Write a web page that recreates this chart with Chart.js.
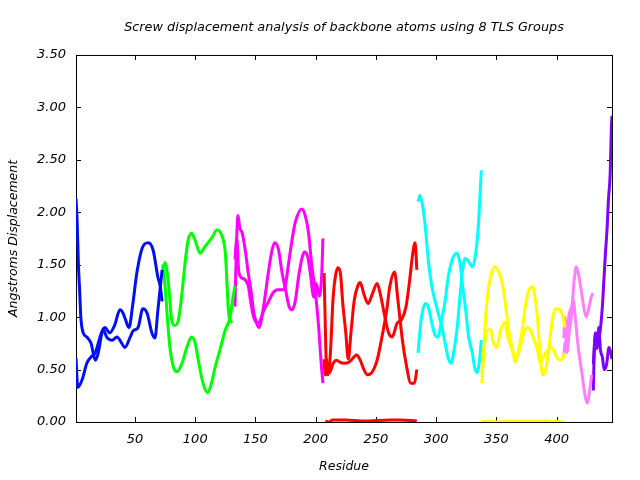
<!DOCTYPE html>
<html>
<head>
<meta charset="utf-8">
<script src="https://cdn.jsdelivr.net/npm/chart.js@4/dist/chart.umd.min.js"></script>
<style>
  body { margin: 0; background: #fff; }
  canvas { display: block; }
</style>
</head>
<body>
<canvas id="chart" width="640" height="480"></canvas>
<script>
// axis ticks
const xTicks = [50, 100, 150, 200, 250, 300, 350, 400];
const yTicks = [0, 0.5, 1, 1.5, 2, 2.5, 3, 3.5];

// TLS group 1 (blue), residue / displacement pairs
const blueA = [[1,2.13],[2,1.9],[3,1.5],[4,1.26],[5,1.0],[7,0.85],[10,0.81],[13.5,0.75],[17,0.59],[19.5,0.66],[22.5,0.85],[25,0.9],[29,0.85],[33,0.92],[37.5,1.07],[40,1.04],[42,0.98],[45,0.9],[48,1.11],[51.5,1.42],[56,1.66],[61,1.71],[65,1.64],[69,1.38],[71,1.29],[72.5,1.15]];
const blueB = [[1,0.61],[2.5,0.33],[6,0.4],[10,0.56],[13.5,0.62],[17,0.66],[21,0.81],[23.5,0.88],[26.5,0.81],[31,0.78],[35,0.81],[39,0.75],[41.5,0.71],[46,0.81],[48.5,0.87],[52.5,0.9],[56.5,1.08],[60,1.04],[64,0.85],[66.5,0.8],[69,1.07],[72.5,1.45]];

// TLS group 2 (green)
const greenA = [[73,1.45],[75,1.52],[76.5,1.45],[78,1.29],[80.5,0.97],[83,0.92],[86,0.97],[89,1.23],[91.5,1.51],[94,1.73],[97,1.8],[100,1.73],[104,1.61],[108,1.67],[114,1.76],[118,1.83],[122,1.78],[125,1.61],[126.5,1.29],[127.5,1.07],[129,0.97],[131,0.95]];
const greenB = [[73,1.5],[75,1.29],[77,0.97],[79,0.71],[82,0.52],[85,0.48],[89,0.56],[93,0.71],[97,0.81],[100,0.75],[102.5,0.59],[106.5,0.37],[110,0.28],[112.5,0.33],[116.5,0.52],[121,0.71],[125,0.88],[129,1.0],[131,1.16],[133,1.3]];

// TLS group 3 (magenta)
const magentaA = [[133,1.1],[134,1.6],[135.5,1.97],[137,1.85],[139,1.8],[142,1.6],[144,1.42],[146.5,1.24],[148.5,1.05],[151,0.94],[153,0.9],[155,0.98],[158,1.2],[161,1.45],[164,1.65],[166,1.71],[169,1.65],[172,1.43],[175,1.26],[178,1.1],[180.5,1.07],[183,1.15],[186,1.4],[189,1.58],[191,1.62],[193.5,1.57],[195.5,1.42],[198.5,1.19],[200.5,1.32],[203,1.2],[205,1.4],[206,1.75]];
const magentaB = [[133,1.55],[134.5,1.75],[136,1.45],[138,1.38],[141,1.36],[144,1.3],[146,1.15],[148.5,1.0],[151,0.95],[153,0.95],[155.5,1.02],[158,1.09],[160.5,1.14],[164.5,1.23],[168.5,1.26],[172.5,1.26],[174.5,1.28],[176.5,1.43],[180,1.71],[183,1.9],[188.5,2.03],[191,1.98],[194,1.81],[196.5,1.52],[200,1.21],[202.5,0.9],[204.5,0.57],[206,0.37]];

// TLS group 4 (red)
const redA = [[207,1.42],[208,0.9],[209,0.5],[210,0.45],[212,0.62],[214.5,1.19],[216.5,1.4],[218.5,1.47],[220.5,1.42],[222.5,1.13],[225,0.85],[227,0.6],[229.5,0.88],[232,1.16],[235,1.3],[237,1.33],[240,1.22],[243.5,1.13],[247,1.22],[251,1.32],[254,1.2],[257.5,1.0],[260.5,0.85],[263.5,0.81],[267.5,0.94],[271.5,0.98],[275,1.1],[278,1.35],[280.5,1.6],[282.5,1.71],[284,1.45]];
const redB = [[207,0.6],[208,0.45],[209,0.6],[210,0.5],[211.5,0.47],[214.5,0.56],[217.5,0.59],[220,0.57],[223.5,0.56],[227.5,0.57],[231,0.61],[234,0.64],[237,0.59],[240,0.5],[243,0.45],[246.5,0.47],[251,0.59],[255,0.81],[259,1.07],[261.5,1.29],[265.5,1.43],[268,1.19],[272,0.78],[275,0.56],[279,0.37],[282,0.37],[284,0.5]];
const redC = [[208,0.01],[211,0.0],[214,0.02],[225,0.02],[240,0.01],[262,0.02],[270,0.02],[284,0.01]];

// TLS group 5 (cyan)
const cyanA = [[285,2.1],[286.5,2.16],[288.5,2.08],[291,1.86],[293.5,1.54],[296.5,1.29],[301,1.07],[305,0.9],[307.5,0.75],[310,0.61],[312.5,0.56],[314.5,0.66],[317.5,0.9],[320,1.23],[322,1.45],[324,1.56],[326.5,1.54],[330,1.48],[332,1.54],[335,1.86],[336.5,2.18],[337.5,2.4]];
const cyanB = [[285,0.66],[287.5,0.97],[291,1.13],[293.5,1.1],[296.5,0.94],[299,0.83],[301.5,0.81],[304.5,0.97],[307.5,1.16],[310,1.38],[314,1.57],[317.5,1.61],[320,1.5],[322,1.3],[324.5,1.07],[327,0.81],[330,0.66],[332,0.52],[334,0.47],[336,0.59],[337.5,0.78]];

// TLS group 6 (yellow)
const yellowA = [[338,0.37],[339,0.55],[340.5,0.9],[343,1.23],[346,1.42],[349,1.48],[352,1.43],[355,1.32],[357.5,1.13],[360,0.9],[363,0.71],[366,0.57],[368.5,0.69],[371.5,0.88],[374,1.1],[377,1.26],[380,1.29],[382.5,1.16],[384.5,0.94],[386,0.69],[388.5,0.45],[391,0.5],[393.5,0.69],[396.5,0.97],[399,1.08],[403,1.07],[405.5,1.0],[407,0.9]];
const yellowB = [[338,0.45],[340,0.71],[343,0.88],[345.5,0.88],[347,0.78],[350.5,0.71],[353,0.85],[357,0.95],[359.5,0.81],[363,0.69],[366,0.62],[368.5,0.66],[372,0.81],[375.5,0.9],[378,0.88],[380.5,0.81],[384,0.69],[386.5,0.56],[389,0.62],[393,0.69],[396,0.71],[400,0.62],[403,0.59],[405.5,0.62],[407,0.66]];
const yellowC = [[337,0.0],[345,0.01],[352,0.0],[360,0.01],[375,0.01],[390,0.01],[406,0.0]];

// TLS group 7 (pink)
const pinkA = [[406,0.62],[407,0.75],[408.5,0.78],[410,1.0],[413,1.13],[414.6,1.35],[416.3,1.48],[418,1.42],[420.4,1.26],[422.5,1.1],[424.6,1.0],[426.5,1.07],[428.7,1.19],[430,1.23]];
const pinkB = [[406,0.8],[407,1.0],[408.5,0.66],[410.5,0.85],[413,1.07],[414,1.16],[415.5,1.0],[418,0.71],[421,0.47],[423.8,0.24],[425.4,0.18],[427.5,0.3],[429,0.45]];

// TLS group 8 (purple)
const purpleA = [[430.5,0.3],[431.5,0.75],[432.5,0.85],[434,0.72],[435,0.9],[436.5,0.68],[438,0.62],[439.5,0.5],[441.5,0.55],[443.5,0.71],[445,0.66],[446,0.6]];
const purpleB = [[430.5,0.55],[432,0.8],[433.5,0.7],[435,0.78],[436.5,0.9],[438,1.1],[439,1.3],[440.5,1.6],[442,1.86],[443,2.11],[444.5,2.37],[445.5,2.81],[446,2.92]];

const series = [
  [blueA, '#0010f0'], [blueB, '#0010f0'],
  [greenA, '#00ff00'], [greenB, '#00ff00'],
  [magentaA, '#ff00ff'], [magentaB, '#ff00ff'],
  [redA, '#ff0000'], [redB, '#ff0000'], [redC, '#ff0000'],
  [cyanA, '#00ffff'], [cyanB, '#00ffff'],
  [yellowA, '#ffff00'], [yellowB, '#ffff00'], [yellowC, '#ffff00'],
  [pinkA, '#ff80ff'], [pinkB, '#ff80ff'],
  [purpleA, '#8000ff'], [purpleB, '#8000ff']
];

const fontFamily = '"DejaVu Sans", sans-serif';
const tickFont = { family: fontFamily, size: 13, style: 'italic' };
const labelFont = { family: fontFamily, size: 12.5, style: 'italic' };

// box round the plot with inside ticks on all four sides
const frame = {
  id: 'frame',
  beforeDatasetsDraw(chart) {
    const { ctx, chartArea: a, scales: { x, y } } = chart;
    ctx.save();
    ctx.strokeStyle = '#000';
    ctx.lineWidth = 1;
    ctx.strokeRect(a.left + 0.5, a.top + 0.5, a.right - a.left, a.bottom - a.top);
    ctx.beginPath();
    x.ticks.forEach(t => {
      const px = Math.round(x.getPixelForValue(t.value)) + 0.5;
      ctx.moveTo(px, a.bottom); ctx.lineTo(px, a.bottom - 5);
      ctx.moveTo(px, a.top); ctx.lineTo(px, a.top + 5);
    });
    y.ticks.forEach(t => {
      const py = Math.round(y.getPixelForValue(t.value)) + 0.5;
      ctx.moveTo(a.left, py); ctx.lineTo(a.left + 5, py);
      ctx.moveTo(a.right, py); ctx.lineTo(a.right - 5, py);
    });
    ctx.stroke();
    ctx.restore();
  }
};

Chart.defaults.color = '#000';

new Chart(document.getElementById('chart'), {
  type: 'line',
  data: {
    datasets: series.map(([pts, color]) => ({
      data: pts.map(([x, y]) => ({ x, y })),
      borderColor: color,
      borderWidth: 3,
      pointRadius: 0,
      fill: false,
      cubicInterpolationMode: 'monotone'
    }))
  },
  options: {
    responsive: false,
    animation: false,
    layout: { padding: { left: 0, right: 28, top: 0, bottom: 0 } },
    plugins: {
      legend: { display: false },
      tooltip: { enabled: false },
      title: {
        display: true,
        fullSize: false,
        text: 'Screw displacement analysis of backbone atoms using 8 TLS Groups',
        font: { family: fontFamily, size: 12.8, style: 'italic', weight: 'normal' },
        color: '#000',
        padding: { top: 20, bottom: 19.6 }
      }
    },
    scales: {
      x: {
        type: 'linear',
        min: 1,
        max: 446,
        afterFit(s) { s.height = 58; },
        afterBuildTicks(s) { s.ticks = xTicks.map(v => ({ value: v })); },
        grid: { display: false, drawTicks: false },
        border: { display: false },
        ticks: { font: tickFont, color: '#000', padding: 10, autoSkip: false, maxRotation: 0 },
        title: { display: true, text: 'Residue', font: labelFont, color: '#000', padding: { top: 0, bottom: 6 } }
      },
      y: {
        type: 'linear',
        min: 0,
        max: 3.5,
        afterFit(s) { s.width = 76; },
        afterBuildTicks(s) { s.ticks = yTicks.map(v => ({ value: v })); },
        grid: { display: false, drawTicks: false },
        border: { display: false },
        ticks: { font: tickFont, color: '#000', padding: 10, callback: v => v.toFixed(2) },
        title: { display: true, text: 'Angstroms Displacement', font: labelFont, color: '#000', padding: { top: 6, bottom: 0 } }
      }
    }
  },
  plugins: [frame]
});
</script>
</body>
</html>
